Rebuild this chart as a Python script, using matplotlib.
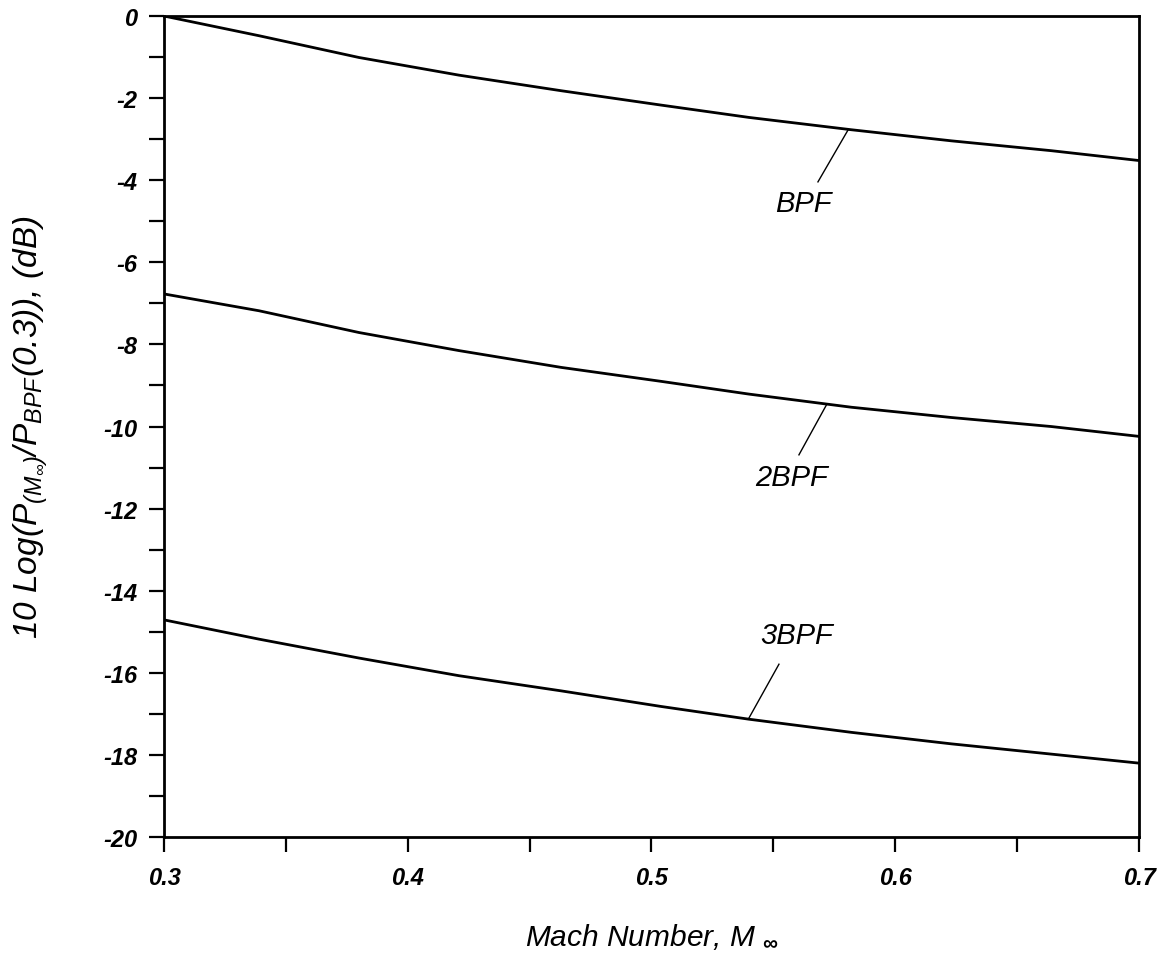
import numpy as np
import matplotlib.pyplot as plt
from matplotlib.ticker import MultipleLocator

# Mach number sweep and relative tone levels (dB re BPF at M=0.3)
mach = [0.300, 0.339, 0.380, 0.421, 0.463, 0.504, 0.540, 0.582, 0.623, 0.664, 0.700]
bpf_db = [0.0, -0.48, -1.01, -1.44, -1.82, -2.17, -2.47, -2.77, -3.04, -3.28, -3.52]
bpf2_db = [-6.77, -7.18, -7.71, -8.15, -8.56, -8.90, -9.21, -9.53, -9.78, -10.00, -10.24]
bpf3_db = [-14.71, -15.18, -15.64, -16.07, -16.44, -16.82, -17.13, -17.45, -17.73, -17.98, -18.20]

# curve labels: (text, label position, leader start, leader end on curve)
curve_labels = [
    ("BPF", (0.5622, -4.56), (0.5683, -4.04), (0.5806, -2.78)),
    ("2BPF", (0.5576, -11.23), (0.5605, -10.69), (0.5720, -9.45)),
    ("3BPF", (0.5597, -15.08), (0.5523, -15.79), (0.5400, -17.10)),
]

plt.rcParams["font.family"] = ["Liberation Sans", "DejaVu Sans"]
plt.rcParams["mathtext.fontset"] = "custom"
plt.rcParams["mathtext.rm"] = "Liberation Sans:italic"
plt.rcParams["mathtext.it"] = "Liberation Sans:italic"
plt.rcParams["mathtext.bf"] = "Liberation Sans:bold:italic"

fig = plt.figure(figsize=(11.69, 9.79), dpi=100)
ax = fig.add_axes([0.1403, 0.1440, 0.8340, 0.8386])

for ys in (bpf_db, bpf2_db, bpf3_db):
    ax.plot(mach, ys, color="black", lw=2.0, solid_joinstyle="round")

for text, (tx, ty), (x0, y0), (x1, y1) in curve_labels:
    ax.plot([x0, x1], [y0, y1], color="black", lw=1.0)
    ax.text(tx, ty, text, ha="center", va="center", fontsize=21,
            style="italic")

ax.set_xlim(0.3, 0.7)
ax.set_ylim(-20, 0)
ax.xaxis.set_major_locator(MultipleLocator(0.1))
ax.xaxis.set_minor_locator(MultipleLocator(0.05))
ax.yaxis.set_major_locator(MultipleLocator(2))
ax.yaxis.set_minor_locator(MultipleLocator(1))
ax.xaxis.set_major_formatter(plt.FuncFormatter(lambda v, p: f"{v:.1f}"))
ax.yaxis.set_major_formatter(plt.FuncFormatter(lambda v, p: f"{v:.0f}"))

ax.tick_params(which="both", direction="out", length=11, width=1.6,
               top=False, right=False, labelsize=17)
ax.tick_params(axis="x", which="major", pad=10)
ax.tick_params(axis="y", which="major", pad=8)
for lab in ax.get_xticklabels() + ax.get_yticklabels():
    lab.set_style("italic")
    lab.set_fontweight("bold")

for sp in ax.spines.values():
    sp.set_linewidth(2.0)

ax.set_xlabel(r"Mach Number, M $_{\mathbf{\infty}}$", fontsize=21.5,
              style="italic")
ax.xaxis.set_label_coords(0.5, -0.103)
ax.set_ylabel(r"10 Log(P$_{(M_{\infty})}$/P$_{BPF}$(0.3)), (dB)",
              fontsize=24, style="italic")
ax.yaxis.set_label_coords(-0.117, 0.5)

fig.savefig("out.png", dpi=100)
